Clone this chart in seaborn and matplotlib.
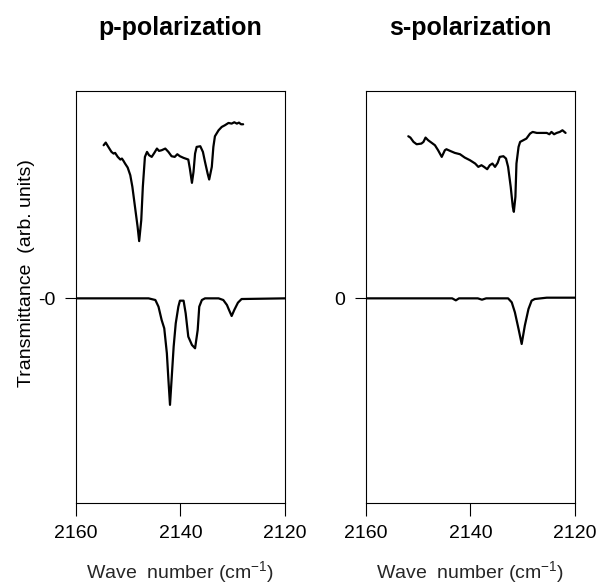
import matplotlib
matplotlib.use("Agg")
import matplotlib.pyplot as plt
import pandas as pd
import seaborn as sns

# p-polarization, upper trace (measured)
p_top_wn = [2154.7, 2154.3, 2153.8, 2153.2, 2152.8, 2152.5, 2152.0, 2151.5, 2151.2, 2150.9,
            2150.6, 2150.1, 2149.6, 2149.2, 2148.7, 2148.2, 2147.9, 2147.5, 2147.2, 2146.8,
            2146.4, 2146.0, 2145.5, 2145.0, 2144.5, 2144.1, 2143.6, 2142.9, 2142.3, 2141.7,
            2141.1, 2140.6, 2140.1, 2139.4, 2138.5, 2138.2, 2137.8, 2137.5, 2137.2, 2136.9,
            2136.2, 2135.7, 2135.3, 2134.8, 2134.5, 2134.0, 2133.7, 2133.4, 2132.7, 2132.1,
            2131.5, 2130.8, 2130.2, 2129.7, 2129.2, 2128.8, 2128.4, 2128.0]
p_top_y = [4.60, 4.68, 4.55, 4.40, 4.35, 4.37, 4.25, 4.17, 4.20, 4.13,
           4.05, 3.93, 3.70, 3.35, 2.75, 2.15, 1.72, 2.35, 3.35, 4.25,
           4.40, 4.30, 4.25, 4.37, 4.50, 4.43, 4.45, 4.50, 4.40, 4.27,
           4.25, 4.33, 4.27, 4.22, 4.17, 3.90, 3.47, 3.80, 4.35, 4.55,
           4.57, 4.40, 4.10, 3.75, 3.57, 3.95, 4.55, 4.87, 5.05, 5.15,
           5.20, 5.27, 5.25, 5.29, 5.25, 5.28, 5.23, 5.23]

# p-polarization, lower trace (calculated)
p_bot_wn = [2160, 2146.1, 2144.8, 2144.2, 2143.6, 2143.1, 2142.6, 2142.3, 2142.0, 2141.7,
            2141.3, 2140.9, 2140.4, 2140.1, 2139.4, 2139.0, 2138.5, 2137.8, 2137.2, 2136.7,
            2136.4, 2135.9, 2135.3, 2132.7, 2131.8, 2131.1, 2130.7, 2130.2, 2129.7, 2129.0,
            2128.3, 2120]
p_bot_y = [0, 0, -0.05, -0.25, -0.65, -0.90, -1.65, -2.45, -3.20, -2.45,
           -1.45, -0.75, -0.25, -0.07, -0.07, -0.45, -1.15, -1.40, -1.50, -0.95,
           -0.25, -0.05, 0, 0, -0.05, -0.20, -0.35, -0.53, -0.35, -0.13,
           -0.02, 0]

# s-polarization, upper trace (measured)
s_top_wn = [2151.9, 2151.5, 2150.9, 2150.3, 2149.4, 2149.0, 2148.6, 2148.1, 2147.4, 2146.8,
            2146.2, 2145.5, 2144.9, 2144.6, 2143.9, 2143.0, 2142.0, 2141.1, 2140.1, 2139.1,
            2138.5, 2137.9, 2137.4, 2136.8, 2136.3, 2135.8, 2135.3, 2134.8, 2134.4, 2133.7,
            2133.2, 2132.8, 2132.3, 2131.9, 2131.7, 2131.4, 2131.2, 2130.8, 2130.5, 2129.9,
            2129.3, 2128.6, 2128.1, 2127.3, 2126.4, 2125.4, 2124.9, 2124.5, 2124.0, 2123.5,
            2122.9, 2122.4, 2121.8]
s_top_y = [4.87, 4.83, 4.70, 4.63, 4.65, 4.70, 4.83, 4.75, 4.67, 4.60,
           4.45, 4.25, 4.45, 4.48, 4.43, 4.37, 4.33, 4.23, 4.15, 4.05,
           3.95, 4.00, 3.95, 3.88, 4.00, 4.05, 3.95, 4.07, 4.25, 4.27,
           4.20, 3.95, 3.35, 2.75, 2.60, 3.05, 4.05, 4.55, 4.70, 4.75,
           4.80, 4.95, 5.00, 4.97, 4.97, 4.97, 4.93, 5.00, 4.93, 4.97,
           5.00, 5.05, 4.97]

# s-polarization, lower trace (calculated)
s_bot_wn = [2160, 2143.5, 2142.8, 2142.2, 2138.6, 2137.8, 2137.0, 2132.8, 2132.1, 2131.5,
            2130.8, 2130.2, 2129.6, 2128.9, 2128.3, 2127.7, 2125.4, 2120]
s_bot_y = [0, 0, -0.06, 0, 0, -0.04, 0, 0, -0.12, -0.42,
           -0.92, -1.37, -0.82, -0.32, -0.07, -0.02, 0.02, 0.02]

titles = ["p-polarization", "s-polarization"]
zero_labels = ["-0", "0"]
xticks = [2160, 2140, 2120]

sns.set_style("ticks")
plt.rcParams['font.family'] = ['Liberation Sans', 'DejaVu Sans']
plt.rcParams['mathtext.fontset'] = 'custom'
plt.rcParams['mathtext.rm'] = 'Liberation Sans'
plt.rcParams['mathtext.default'] = 'regular'
plt.rcParams['text.color'] = 'black'
plt.rcParams['axes.edgecolor'] = 'black'
plt.rcParams['xtick.color'] = 'black'
plt.rcParams['ytick.color'] = 'black'

fig = plt.figure(figsize=(5.98, 5.87), dpi=100)
ax_p = fig.add_axes([0.127, 0.143, 0.3495, 0.702])
ax_s = fig.add_axes([0.612, 0.143, 0.3495, 0.702])

traces = [
    (ax_p, p_top_wn, p_top_y, p_bot_wn, p_bot_y),
    (ax_s, s_top_wn, s_top_y, s_bot_wn, s_bot_y),
]

for i, (ax, twn, ty, bwn, by) in enumerate(traces):
    top = pd.DataFrame({'wn': twn, 'y': ty})
    bot = pd.DataFrame({'wn': bwn, 'y': by})
    sns.lineplot(data=top, x='wn', y='y', ax=ax, color='black', lw=1.6, estimator=None)
    sns.lineplot(data=bot, x='wn', y='y', ax=ax, color='black', lw=1.6, estimator=None)
    ax.set_xlim(2160, 2120)
    ax.set_ylim(-6.15, 6.23)
    ax.set_xticks(xticks)
    ax.set_xticklabels([str(t) for t in xticks])
    ax.set_yticks([0])
    ax.set_yticklabels([zero_labels[i]])
    ax.tick_params(axis='x', direction='out', length=9, width=0.8, pad=7, labelsize=14)
    ax.tick_params(axis='y', direction='out', length=8, width=0.8, pad=7, labelsize=14)
    for sp in ax.spines.values():
        sp.set_linewidth(0.8)
    ax.set_xlabel("Wave  number (cm$^{-1}$)", fontsize=14, labelpad=12)
    ax.set_ylabel("")
    pos = ax.get_position()
    fig.text(pos.x0 + pos.width / 2, 0.952, titles[i], ha='center', va='center',
             fontsize=18, fontweight='bold')

fig.text(0.045, 0.535, "Transmittance  (arb. units)", rotation=90, ha='center', va='center',
         fontsize=14)

fig.savefig("out.png", dpi=100)
